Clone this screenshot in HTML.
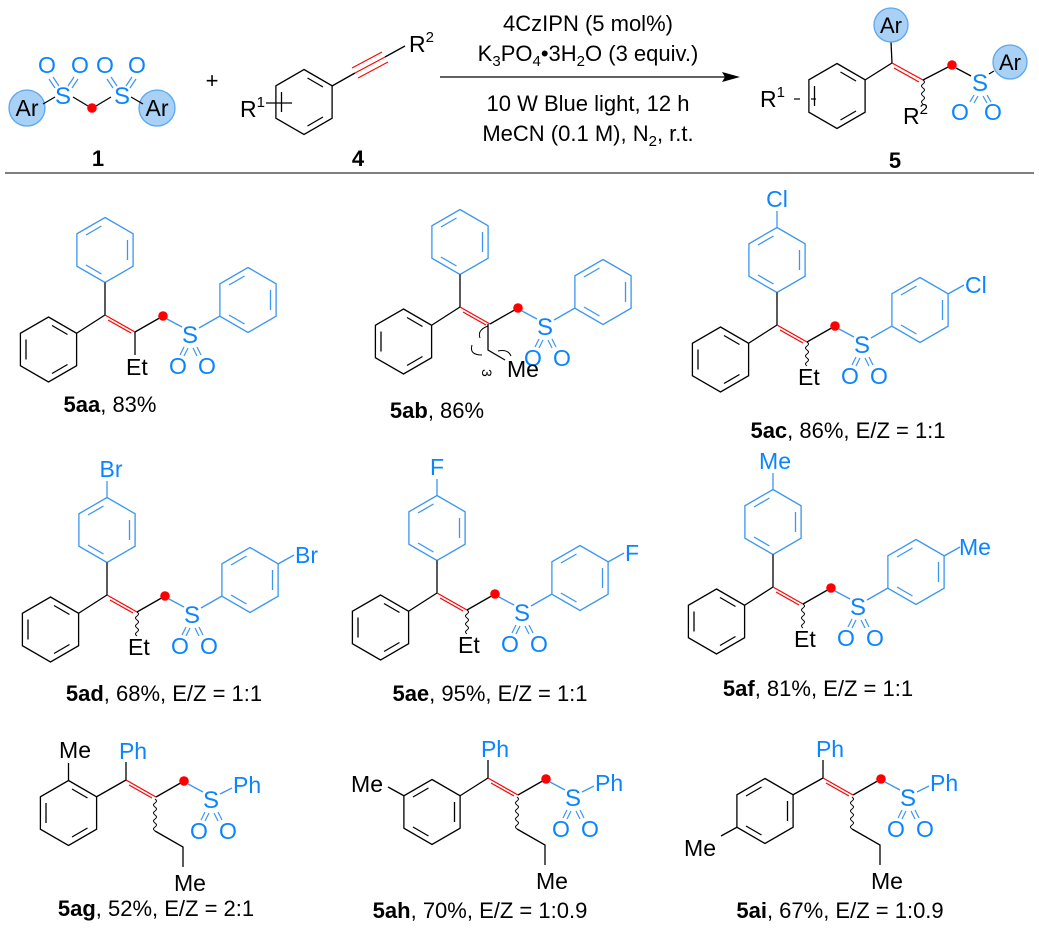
<!DOCTYPE html>
<html><head><meta charset="utf-8"><style>
html,body{margin:0;padding:0;background:#fff;width:1039px;height:939px;overflow:hidden}
svg{display:block}
text{font-family:"Liberation Sans",Arial,sans-serif}
</style></head><body>
<svg width="1039" height="939" viewBox="0 0 1039 939" xmlns="http://www.w3.org/2000/svg">
<defs>
<g id="rA" fill="none" stroke-width="1.3">
<polygon points="0,-32.5 28.1,-16.25 28.1,16.25 0,32.5 -28.1,16.25 -28.1,-16.25"/>
<line x1="22.5" y1="-10" x2="22.5" y2="10"/>
<line x1="-3.5" y1="24" x2="-19" y2="15"/>
<line x1="-19" y1="-15" x2="-3.5" y2="-24"/>
</g>
<g id="rB" fill="none" stroke-width="1.3">
<polygon points="0,-32.5 28.1,-16.25 28.1,16.25 0,32.5 -28.1,16.25 -28.1,-16.25"/>
<line x1="3.5" y1="-24" x2="19" y2="-15"/>
<line x1="19" y1="15" x2="3.5" y2="24"/>
<line x1="-22.5" y1="-10" x2="-22.5" y2="10"/>
</g>
<path id="wv" d="M0,0 q3,2 0,4 q-3,2 0,4 q3,2 0,4 q-3,2 0,4 q3,2 0,4 q-3,2 0,4" fill="none" stroke="#000" stroke-width="1"/>
<path id="wvL" d="M0,0 q3,2 0,4 q-3,2 0,4 q3,2 0,4 q-3,2 0,4 q3,2 0,4 q-3,2 0,4 q3,2 0,4 q-3,2 0,4" fill="none" stroke="#000" stroke-width="1"/>
<g id="so2">
<line x1="30" y1="17" x2="58" y2="1" stroke="#000" stroke-width="1.3"/>
<line x1="62" y1="4" x2="77" y2="12" stroke="#3a96f0" stroke-width="1.3"/>
<circle cx="58" cy="1" r="4.8" fill="#f00"/>
<text x="85" y="28" font-size="24" fill="#0a84ff" text-anchor="middle">S</text>
<g stroke="#3a96f0" stroke-width="1.2">
<line x1="79" y1="32" x2="75" y2="40"/><line x1="83" y1="33" x2="79" y2="41"/>
<line x1="88" y1="33" x2="92" y2="41"/><line x1="92" y1="32" x2="96" y2="40"/>
</g>
<text x="73" y="59" font-size="23" fill="#0a84ff" text-anchor="middle">O</text>
<text x="102" y="59" font-size="23" fill="#0a84ff" text-anchor="middle">O</text>
<line x1="0" y1="0" x2="30" y2="17" stroke="#f00" stroke-width="1.2"/>
<line x1="3" y1="5" x2="26" y2="18" stroke="#f00" stroke-width="1.2"/>
</g>
<g id="core">
<use href="#rA" x="0" y="-65" stroke="#3a96f0"/>
<line x1="0" y1="-32.5" x2="0" y2="0" stroke="#000" stroke-width="1.3"/>
<use href="#rB" x="-56.5" y="34.5" stroke="#000"/>
<line x1="0" y1="0" x2="-28.4" y2="18.25" stroke="#000" stroke-width="1.3"/>
<use href="#so2"/>
<line x1="94" y1="13" x2="115" y2="1" stroke="#3a96f0" stroke-width="1.3"/>
<use href="#rA" x="143" y="-15" stroke="#3a96f0"/>
</g>
<g id="etW">
<use href="#wv" x="30" y="17"/>
<text x="21" y="60" font-size="23" fill="#000">Et</text>
</g>
<g id="sub">
<line x1="0" y1="-97.5" x2="0" y2="-114" stroke="#3a96f0" stroke-width="1.3"/>
<line x1="171" y1="-31" x2="187" y2="-40" stroke="#3a96f0" stroke-width="1.3"/>
</g>
<g id="core3">
<text x="7" y="-21" font-size="23" fill="#0a84ff" text-anchor="middle">Ph</text>
<line x1="0" y1="-18" x2="0" y2="0" stroke="#000" stroke-width="1.3"/>
<use href="#so2"/>
<line x1="94" y1="14" x2="106" y2="8" stroke="#3a96f0" stroke-width="1.3"/>
<text x="107" y="13" font-size="23" fill="#0a84ff">Ph</text>
<use href="#wvL" x="29" y="19"/>
<polyline points="29,51 57,67 57,87" fill="none" stroke="#000" stroke-width="1.3"/>
<text x="64" y="111" font-size="23" fill="#000" text-anchor="middle">Me</text>
</g>
</defs>

<!-- ===== Header ===== -->
<g stroke-width="1.3">
<circle cx="27" cy="108" r="18" fill="#a9d0f5" stroke="#5aa8f0"/>
<circle cx="157" cy="108" r="18" fill="#a9d0f5" stroke="#5aa8f0"/>
<line x1="43" y1="104" x2="55" y2="97" stroke="#000"/>
<line x1="73" y1="97" x2="88" y2="106" stroke="#000"/>
<line x1="96" y1="106" x2="111" y2="97" stroke="#000"/>
<line x1="131" y1="97" x2="143" y2="104" stroke="#000"/>
<g stroke="#3a96f0" stroke-width="1.2">
<line x1="59" y1="86" x2="53" y2="77"/><line x1="55" y1="88" x2="49" y2="79"/>
<line x1="68" y1="86" x2="74" y2="77"/><line x1="72" y1="88" x2="78" y2="79"/>
<line x1="117" y1="86" x2="111" y2="77"/><line x1="113" y1="88" x2="107" y2="79"/>
<line x1="126" y1="86" x2="132" y2="77"/><line x1="130" y1="88" x2="136" y2="79"/>
</g>
</g>
<circle cx="92" cy="108" r="4.8" fill="#f00"/>
<text x="27" y="116" font-size="23" text-anchor="middle" fill="#000">Ar</text>
<text x="157" y="116" font-size="23" text-anchor="middle" fill="#000">Ar</text>
<text x="63" y="104" font-size="24" text-anchor="middle" fill="#0a84ff">S</text>
<text x="122" y="104" font-size="24" text-anchor="middle" fill="#0a84ff">S</text>
<text x="47" y="73" font-size="23" text-anchor="middle" fill="#0a84ff">O</text>
<text x="80" y="73" font-size="23" text-anchor="middle" fill="#0a84ff">O</text>
<text x="105" y="73" font-size="23" text-anchor="middle" fill="#0a84ff">O</text>
<text x="137" y="73" font-size="23" text-anchor="middle" fill="#0a84ff">O</text>
<text x="98" y="166" font-size="22" font-weight="bold" text-anchor="middle">1</text>
<text x="212" y="88" font-size="22" text-anchor="middle">+</text>

<use href="#rB" x="304" y="102" stroke="#000"/>
<text x="240" y="117" font-size="23">R<tspan font-size="15" dy="-10">1</tspan></text>
<line x1="266" y1="103" x2="292" y2="103" stroke="#000" stroke-width="1.2"/>
<line x1="332" y1="86" x2="355" y2="73" stroke="#000" stroke-width="1.3"/>
<g stroke="#f00" stroke-width="1.1">
<line x1="355" y1="73" x2="385" y2="57"/><line x1="358" y1="78" x2="388" y2="62"/><line x1="352" y1="68" x2="382" y2="52"/>
</g>
<line x1="385" y1="57" x2="405" y2="46" stroke="#000" stroke-width="1.3"/>
<text x="409" y="52" font-size="23">R<tspan font-size="15" dy="-10">2</tspan></text>
<text x="358" y="166" font-size="22" font-weight="bold" text-anchor="middle">4</text>

<line x1="440" y1="77" x2="728" y2="77" stroke="#000" stroke-width="1.3"/>
<polygon points="740,77 722,72 725,77 722,82" fill="#000"/>
<text x="588" y="31" font-size="22" text-anchor="middle">4CzIPN (5 mol%)</text>
<text x="588" y="61" font-size="22" text-anchor="middle">K<tspan font-size="15" dy="5">3</tspan><tspan dy="-5">PO</tspan><tspan font-size="15" dy="5">4</tspan><tspan dy="-5">•3H</tspan><tspan font-size="15" dy="5">2</tspan><tspan dy="-5">O (3 equiv.)</tspan></text>
<text x="588" y="111" font-size="22" text-anchor="middle">10 W Blue light, 12 h</text>
<text x="588" y="141" font-size="22" text-anchor="middle">MeCN (0.1 M), N<tspan font-size="15" dy="5">2</tspan><tspan dy="-5">, r.t.</tspan></text>

<!-- product 5 -->
<use href="#rB" x="837" y="96" stroke="#000"/>
<line x1="865" y1="80" x2="892" y2="63" stroke="#000" stroke-width="1.3"/>
<line x1="892" y1="63" x2="891" y2="42" stroke="#000" stroke-width="1.3"/>
<circle cx="891" cy="25" r="17" fill="#a9d0f5" stroke="#5aa8f0" stroke-width="1.3"/>
<text x="891" y="33" font-size="22" text-anchor="middle">Ar</text>
<line x1="892" y1="63" x2="923" y2="80" stroke="#f00" stroke-width="1.2"/>
<line x1="894" y1="68" x2="919" y2="82" stroke="#f00" stroke-width="1.2"/>
<use href="#wv" x="923" y="80"/>
<line x1="923" y1="80" x2="952" y2="65" stroke="#000" stroke-width="1.3"/>
<circle cx="952" cy="65" r="4.8" fill="#f00"/>
<line x1="956" y1="68" x2="971" y2="76" stroke="#000" stroke-width="1.3"/>
<text x="980" y="91" font-size="24" fill="#0a84ff" text-anchor="middle">S</text>
<line x1="989" y1="74" x2="994" y2="71" stroke="#000" stroke-width="1.3"/>
<circle cx="1010" cy="62" r="17" fill="#a9d0f5" stroke="#5aa8f0" stroke-width="1.3"/>
<text x="1010" y="70" font-size="22" text-anchor="middle">Ar</text>
<g stroke="#3a96f0" stroke-width="1.2"><line x1="974" y1="95" x2="970" y2="102"/><line x1="978" y1="96" x2="974" y2="103"/><line x1="983" y1="96" x2="987" y2="103"/><line x1="987" y1="95" x2="991" y2="102"/></g>
<text x="960" y="120" font-size="23" fill="#0a84ff" text-anchor="middle">O</text>
<text x="993" y="120" font-size="23" fill="#0a84ff" text-anchor="middle">O</text>
<text x="903" y="124" font-size="23">R<tspan font-size="15" dy="-10">2</tspan></text>
<text x="760" y="107" font-size="23">R<tspan font-size="15" dy="-10">1</tspan></text>
<line x1="794" y1="99" x2="800" y2="99" stroke="#000" stroke-width="1.2"/>
<line x1="811" y1="99" x2="816" y2="99" stroke="#000" stroke-width="1.2"/>
<text x="895" y="168" font-size="22" font-weight="bold" text-anchor="middle">5</text>

<line x1="5" y1="173" x2="1034" y2="173" stroke="#808080" stroke-width="2"/>

<!-- ===== Row 1 ===== -->
<g transform="translate(105,315)">
<use href="#core"/>
<line x1="30" y1="17" x2="30" y2="40" stroke="#000" stroke-width="1.3"/>
<text x="21" y="60" font-size="23">Et</text>
</g>
<text x="110" y="412" font-size="22" text-anchor="middle"><tspan font-weight="bold">5aa</tspan>, 83%</text>

<g transform="translate(460,307)">
<use href="#core"/>
<polyline points="28,17 28,43 45,53" fill="none" stroke="#000" stroke-width="1.3"/>
<path d="M20,31 q-3,-8 8,-12" fill="none" stroke="#000" stroke-width="1"/>
<path d="M12,38 q-3,10 10,10" fill="none" stroke="#000" stroke-width="1"/>
<path d="M38,44 q10,-2 13,5" fill="none" stroke="#000" stroke-width="1"/>
<text x="26" y="66" font-size="14" transform="rotate(90 26 62)">3</text>
<text x="47" y="70" font-size="23">Me</text>
</g>
<text x="437" y="418" font-size="22" text-anchor="middle"><tspan font-weight="bold">5ab</tspan>, 86%</text>

<g transform="translate(777,325)">
<use href="#core"/><use href="#sub"/><use href="#etW"/>
<text x="0" y="-118" font-size="23" fill="#0a84ff" text-anchor="middle">Cl</text>
<text x="188" y="-32" font-size="23" fill="#0a84ff">Cl</text>
</g>
<text x="848" y="438" font-size="22" text-anchor="middle"><tspan font-weight="bold">5ac</tspan>, 86%, E/Z = 1:1</text>

<!-- ===== Row 2 ===== -->
<g transform="translate(107,595)">
<use href="#core"/><use href="#sub"/><use href="#etW"/>
<text x="4" y="-118" font-size="23" fill="#0a84ff" text-anchor="middle">Br</text>
<text x="188" y="-32" font-size="23" fill="#0a84ff">Br</text>
</g>
<text x="164" y="701" font-size="22" text-anchor="middle"><tspan font-weight="bold">5ad</tspan>, 68%, E/Z = 1:1</text>

<g transform="translate(437,593)">
<use href="#core"/><use href="#sub"/><use href="#etW"/>
<text x="0" y="-118" font-size="23" fill="#0a84ff" text-anchor="middle">F</text>
<text x="188" y="-32" font-size="23" fill="#0a84ff">F</text>
</g>
<text x="490" y="701" font-size="22" text-anchor="middle"><tspan font-weight="bold">5ae</tspan>, 95%, E/Z = 1:1</text>

<g transform="translate(773,587)">
<use href="#core"/><use href="#sub"/><use href="#etW"/>
<text x="2" y="-118" font-size="23" fill="#0a84ff" text-anchor="middle">Me</text>
<text x="186" y="-32" font-size="23" fill="#0a84ff">Me</text>
</g>
<text x="818" y="696" font-size="22" text-anchor="middle"><tspan font-weight="bold">5af</tspan>, 81%, E/Z = 1:1</text>

<!-- ===== Row 3 ===== -->
<g transform="translate(126,780)">
<use href="#core3"/>
<use href="#rB" x="-57.5" y="33" stroke="#000"/>
<line x1="0" y1="0" x2="-29.4" y2="16.75" stroke="#000" stroke-width="1.3"/>
<line x1="-57.5" y1="0.5" x2="-57.5" y2="-17" stroke="#000" stroke-width="1.3"/>
<text x="-51" y="-22" font-size="23" text-anchor="middle">Me</text>
</g>
<text x="156" y="916" font-size="22" text-anchor="middle"><tspan font-weight="bold">5ag</tspan>, 52%, E/Z = 2:1</text>

<g transform="translate(488,778)">
<use href="#core3"/>
<use href="#rA" x="-56" y="34" stroke="#000"/>
<line x1="0" y1="0" x2="-27.9" y2="17.75" stroke="#000" stroke-width="1.3"/>
<line x1="-84.1" y1="17.75" x2="-100" y2="9" stroke="#000" stroke-width="1.3"/>
<text x="-105" y="14" font-size="23" text-anchor="end">Me</text>
</g>
<text x="480" y="918" font-size="22" text-anchor="middle"><tspan font-weight="bold">5ah</tspan>, 70%, E/Z = 1:0.9</text>

<g transform="translate(823,778)">
<use href="#core3"/>
<use href="#rA" x="-58" y="33" stroke="#000"/>
<line x1="0" y1="0" x2="-29.9" y2="16.75" stroke="#000" stroke-width="1.3"/>
<line x1="-86.1" y1="49.25" x2="-102" y2="58" stroke="#000" stroke-width="1.3"/>
<text x="-107" y="78" font-size="23" text-anchor="end">Me</text>
</g>
<text x="840" y="918" font-size="22" text-anchor="middle"><tspan font-weight="bold">5ai</tspan>, 67%, E/Z = 1:0.9</text>
</svg>
</body></html>
